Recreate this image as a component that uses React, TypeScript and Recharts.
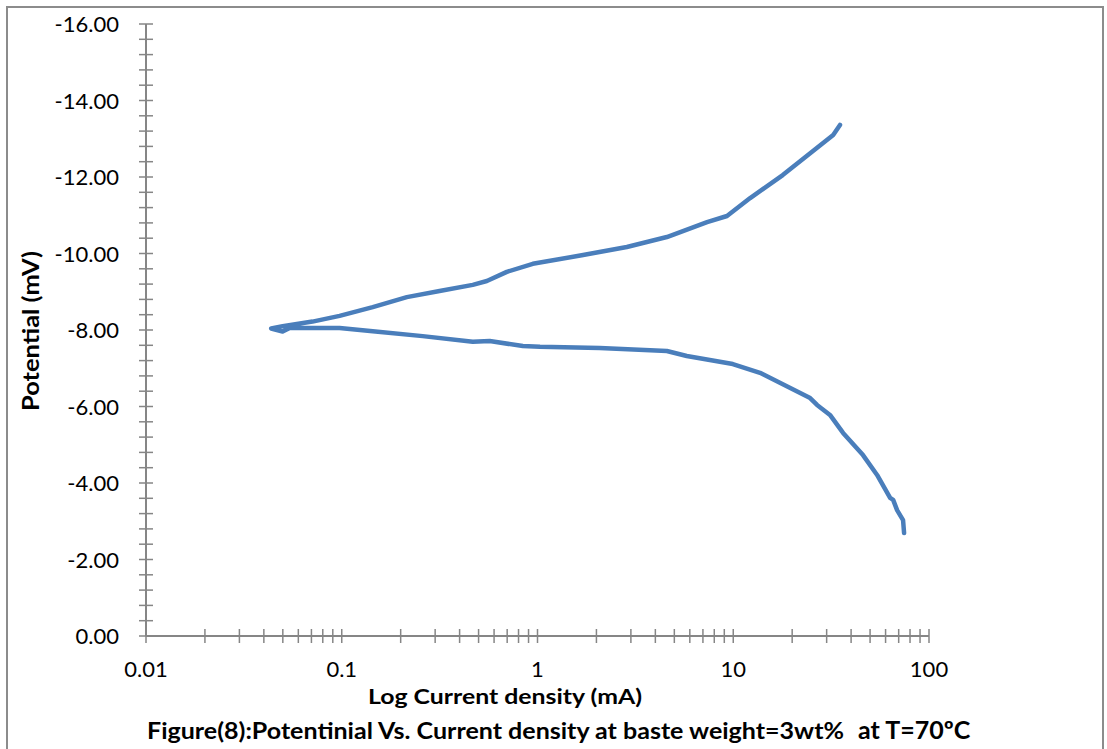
import { LineChart, Line, XAxis, YAxis } from "recharts";

// cathodic branch, read from top-right down to the corrosion point
const cathodicCurrent = [35.1, 32.4, 17.9, 12.2, 9.29, 7.35, 4.58, 2.86, 1.71, 0.946, 0.697, 0.551, 0.467, 0.316, 0.215, 0.144, 0.0975, 0.0709, 0.0499, 0.0436];
const cathodicPotential = [-13.36, -13.1, -12.05, -11.45, -10.98, -10.82, -10.43, -10.17, -9.96, -9.73, -9.52, -9.28, -9.18, -9.02, -8.86, -8.6, -8.37, -8.22, -8.1, -8.04];

// anodic branch, from the hook out to the right
const anodicCurrent = [0.0499, 0.0542, 0.0975, 0.144, 0.259, 0.467, 0.57, 0.842, 1.03, 2.08, 4.58, 5.79, 9.95, 13.7, 24.7, 26.8, 31.2, 36.4, 46.0, 54.3, 63.3, 65.6, 68.7, 73.7, 74.6];
const anodicPotential = [-7.96, -8.05, -8.05, -7.97, -7.84, -7.69, -7.71, -7.58, -7.56, -7.53, -7.45, -7.32, -7.11, -6.88, -6.22, -6.04, -5.78, -5.31, -4.73, -4.21, -3.61, -3.56, -3.29, -3.03, -2.69];

const xMajorTicks = [0.01, 0.1, 1, 10, 100];
const xTickLabels = ["0.01", "0.1", "1", "10", "100"];
const yMajorTicks = [-16, -14, -12, -10, -8, -6, -4, -2, 0];

const data = [
  ...cathodicCurrent.map((c, i) => ({ current: c, potential: cathodicPotential[i] })),
  ...anodicCurrent.map((c, i) => ({ current: c, potential: anodicPotential[i] })),
];

// log axis: ticks at 1..9 of every decade
const xTicks: number[] = [];
xMajorTicks.slice(0, -1).forEach(d => {
  for (let k = 1; k < 10; k++) xTicks.push(d * k);
});
xTicks.push(100);

// five minor steps between the labelled ones
const yTicks: number[] = [];
for (let i = 0; i <= 40; i++) yTicks.push(Math.round((-16 + i * 0.4) * 10) / 10);

const AXIS = "#868686";
const FONT = "Lato, 'Open Sans', sans-serif";

const XTick = (props: any) => {
  const { x, y, payload } = props;
  const idx = xMajorTicks.findIndex(m => Math.abs(m - payload.value) / m < 1e-6);
  return (
    <g>
      <line x1={x} x2={x} y1={y - 7} y2={y + 7} stroke={AXIS} strokeWidth={1.5} />
      {idx >= 0 && (
        <text x={x} y={y + 41} textAnchor="middle" fontFamily={FONT} fontSize={22} fill="#000">
          {xTickLabels[idx]}
        </text>
      )}
    </g>
  );
};

const YTick = (props: any) => {
  const { x, y, payload } = props;
  const v = payload.value;
  const major = yMajorTicks.some(m => Math.abs(m - v) < 1e-6);
  return (
    <g>
      <line x1={x - 7} x2={x + 7} y1={y} y2={y} stroke={AXIS} strokeWidth={1.5} />
      {major && (
        <text x={x - 27} y={y + 8} textAnchor="end" fontFamily={FONT} fontSize={22} fill="#000">
          {v.toFixed(2)}
        </text>
      )}
    </g>
  );
};

export default function App() {
  return (
    <div style={{ position: "absolute", left: 0, top: 0, width: 1107, height: 749, background: "#fff", overflow: "hidden" }}>
      <LineChart width={1107} height={749} data={data} margin={{ top: 24, right: 178, bottom: 0, left: 0 }}>
        <XAxis
          dataKey="current"
          type="number"
          scale="log"
          domain={[0.01, 100]}
          allowDataOverflow
          ticks={xTicks}
          interval={0}
          height={113}
          tickSize={0}
          tickMargin={0}
          tickLine={false}
          axisLine={{ stroke: AXIS, strokeWidth: 2 }}
          tick={<XTick />}
        />
        <YAxis
          dataKey="potential"
          type="number"
          domain={[-16, 0]}
          reversed
          allowDataOverflow
          ticks={yTicks}
          interval={0}
          width={146}
          tickSize={0}
          tickMargin={0}
          tickLine={false}
          axisLine={{ stroke: AXIS, strokeWidth: 2 }}
          tick={<YTick />}
        />
        <Line
          type="linear"
          dataKey="potential"
          stroke="#4a7ebb"
          strokeWidth={4.5}
          strokeLinejoin="round"
          strokeLinecap="round"
          dot={false}
          isAnimationActive={false}
        />
      </LineChart>
      <svg width={1107} height={749} style={{ position: "absolute", left: 0, top: 0, pointerEvents: "none" }}>
        <rect x={7} y={7} width={1096} height={760} fill="none" stroke="#8c8c8c" strokeWidth={2} />
        <text
          transform="translate(39,331) rotate(-90)"
          textAnchor="middle"
          fontFamily={FONT}
          fontWeight="bold"
          fontSize={22}
          textLength={160}
          lengthAdjust="spacingAndGlyphs"
          fill="#000"
        >
          Potential (mV)
        </text>
        <text
          x={505}
          y={704}
          textAnchor="middle"
          fontFamily={FONT}
          fontWeight="bold"
          fontSize={21}
          textLength={274}
          lengthAdjust="spacingAndGlyphs"
          fill="#000"
        >
          Log Current density (mA)
        </text>
        <text
          x={147}
          y={739}
          fontFamily={FONT}
          fontWeight="bold"
          fontSize={22}
          textLength={697}
          lengthAdjust="spacingAndGlyphs"
          fill="#000"
        >
          Figure(8):Potentinial Vs. Current density at baste weight=3wt%
        </text>
        <text x={858} y={739} fontFamily={FONT} fontWeight="bold" fontSize={25} fill="#000">
          at T=70ºC
        </text>
      </svg>
    </div>
  );
}
